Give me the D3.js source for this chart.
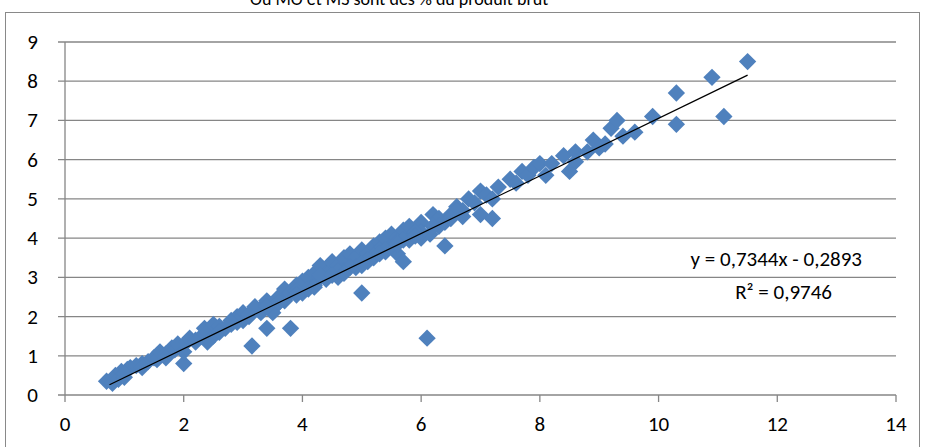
<!DOCTYPE html>
<html><head><meta charset="utf-8">
<script src="https://cdn.jsdelivr.net/npm/d3@7"></script>
<style>body{margin:0;background:#fff}text{font-family:Carlito,Calibri,"Liberation Sans",sans-serif}</style>
</head><body><div id="chart"></div>
<script>
var xTicks = [0,2,4,6,8,10,12,14];
var yTicks = [0,1,2,3,4,5,6,7,8,9];
var xs = [0.7,0.8,0.85,0.9,0.95,1.0,1.05,1.1,1.2,1.3,1.4,1.5,1.55,1.6,1.7,1.8,1.85,1.9,2.0,2.0,2.05,2.1,2.2,2.3,2.35,2.4,2.5,2.5,2.6,2.7,2.8,2.9,3.0,3.0,3.1,3.15,3.2,3.3,3.4,3.4,3.5,3.6,3.7,3.7,3.8,3.8,3.9,4.0,4.0,4.1,4.2,4.2,4.3,4.3,4.4,4.5,4.5,4.6,4.6,4.7,4.8,4.8,4.9,5.0,5.0,5.0,5.1,5.2,5.2,5.3,5.3,5.4,5.5,5.5,5.6,5.6,5.7,5.7,5.8,5.9,6.0,6.0,6.1,6.15,6.2,6.2,6.3,6.4,6.4,6.5,6.6,6.7,6.8,6.9,7.0,7.0,7.1,7.2,7.3,7.5,7.6,7.7,7.8,7.9,8.0,8.2,8.4,8.5,8.6,8.8,8.9,9.1,9.2,9.3,9.4,9.6,9.9,10.3,10.3,10.9,11.1,11.5,
  1.0,1.3,1.7,2.2,2.6,2.9,3.3,3.6,4.1,4.4,4.7,5.1,5.4,5.8,6.3,6.7,7.2,8.1,8.6,9.0,
  2.4,2.8,3.5,3.9,4.3,4.9,5.2,5.6,6.0,6.6,3.2,4.6,5.9,
  4.5,4.8,5.1,5.4,5.7,4.2,3.9,3.6,4.7,5.0,5.3,5.6,5.9,6.2,6.5,3.4,3.1,2.8];
var ys = [0.35,0.3,0.5,0.4,0.6,0.45,0.65,0.7,0.75,0.8,0.85,0.95,0.9,1.1,1.05,1.2,1.15,1.3,0.8,1.1,1.35,1.45,1.4,1.5,1.7,1.6,1.5,1.8,1.75,1.7,1.9,2.0,1.9,2.1,2.0,1.25,2.25,2.2,1.7,2.4,2.3,2.5,2.4,2.7,1.7,2.6,2.8,2.6,2.9,3.0,2.8,3.1,3.0,3.3,3.1,3.2,3.4,3.3,3.0,3.5,3.4,3.6,3.5,2.6,3.3,3.7,3.6,3.8,3.5,3.9,3.7,4.0,3.8,4.1,4.0,3.6,4.2,3.4,4.3,4.1,4.0,4.4,1.45,4.1,4.3,4.6,4.5,4.4,3.8,4.6,4.8,4.7,5.0,4.9,5.2,4.6,5.1,4.5,5.3,5.5,5.4,5.7,5.6,5.8,5.9,5.9,6.1,5.7,6.2,6.2,6.5,6.4,6.8,7.0,6.6,6.7,7.1,7.7,6.9,8.1,7.1,8.5,
  0.55,0.7,0.95,1.35,1.6,1.85,2.1,2.35,2.7,2.95,3.15,3.4,3.65,3.95,4.3,4.55,5.0,5.6,5.95,6.3,
  1.35,1.8,2.1,2.65,3.05,3.25,3.55,3.9,4.15,4.7,2.2,3.15,4.15,
  3.05,3.25,3.45,3.7,3.95,2.75,2.55,2.35,3.1,3.35,3.6,3.85,4.05,4.3,4.5,2.25,2.05,1.85];
var fitM = 0.7344, fitB = -0.2893, fitX = [0.75, 11.5];

var W = 926, H = 447;
var svg = d3.select("#chart").append("svg").attr("width", W).attr("height", H);
svg.append("text").attr("x", 250).attr("y", 5).attr("font-size", 18).text("Où MO et MS sont des % du produit brut");
svg.append("rect").attr("x", 5.5).attr("y", 12.5).attr("width", 914).attr("height", 450)
  .attr("fill", "none").attr("stroke", "#898989");

var x = d3.scaleLinear().domain([0, 14]).range([65, 896]);
var y = d3.scaleLinear().domain([0, 9]).range([395, 42]);

var g = svg.append("g");
g.selectAll(".grid").data(yTicks).enter().append("line")
  .attr("x1", 58).attr("x2", 896).attr("y1", d => y(d)).attr("y2", d => y(d))
  .attr("stroke", "#868686").attr("stroke-width", 1.3);
g.append("line").attr("x1", 65).attr("x2", 65).attr("y1", 42).attr("y2", 395).attr("stroke", "#868686").attr("stroke-width", 1.3);
g.selectAll(".xt").data(xTicks).enter().append("line")
  .attr("x1", d => x(d)).attr("x2", d => x(d)).attr("y1", 395).attr("y2", 402).attr("stroke", "#868686").attr("stroke-width", 1.3);
g.selectAll(".xl").data(xTicks).enter().append("text")
  .attr("x", d => x(d)).attr("y", 431).attr("text-anchor", "middle").attr("font-size", 21).text(d => d);
g.selectAll(".yl").data(yTicks).enter().append("text")
  .attr("x", 38).attr("y", d => y(d) + 7).attr("text-anchor", "end").attr("font-size", 21).text(d => d);

var sym = d3.symbol().type(d3.symbolSquare).size(150);
g.selectAll(".pt").data(xs.map((v, i) => [v, ys[i]])).enter().append("path")
  .attr("d", sym).attr("transform", d => "translate(" + x(d[0]) + "," + y(d[1]) + ") rotate(45)")
  .attr("fill", "#4F81BD");

g.append("line").attr("x1", x(fitX[0])).attr("y1", y(fitM * fitX[0] + fitB))
  .attr("x2", x(fitX[1])).attr("y2", y(fitM * fitX[1] + fitB)).attr("stroke", "#000").attr("stroke-width", 1.3);

svg.append("text").attr("x", 862).attr("y", 266).attr("text-anchor", "end").attr("font-size", 21).text("y = 0,7344x - 0,2893");
svg.append("text").attr("x", 832).attr("y", 299).attr("text-anchor", "end").attr("font-size", 21).text("R² = 0,9746");
</script></body></html>
